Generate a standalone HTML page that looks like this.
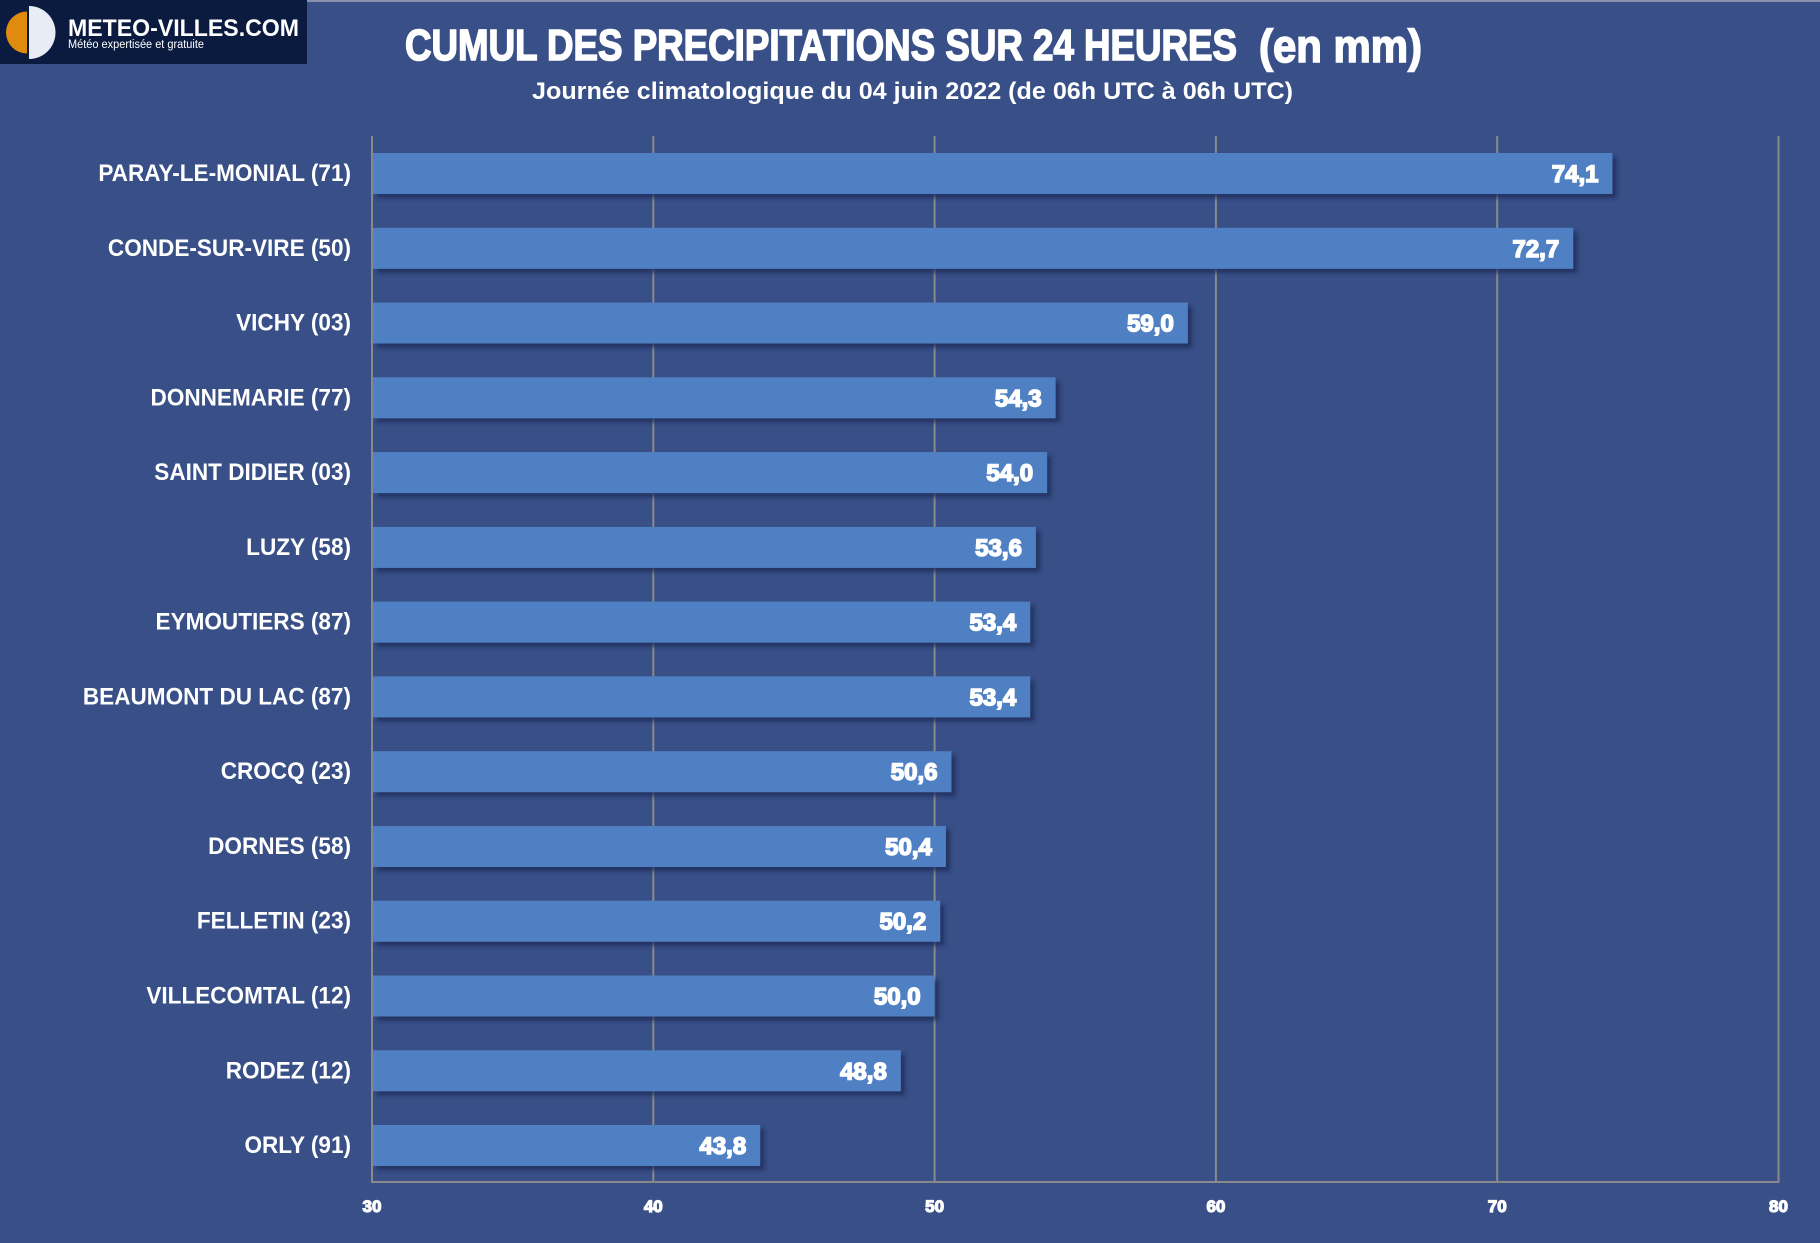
<!DOCTYPE html>
<html><head><meta charset="utf-8"><style>
html,body{margin:0;padding:0;background:#384f87;}
svg{display:block;}
text{font-family:"Liberation Sans",sans-serif;font-weight:bold;fill:#fff;}
</style></head><body>
<svg width="1820" height="1243" viewBox="0 0 1820 1243" xmlns="http://www.w3.org/2000/svg">
<defs>
<filter id="sh" x="-5%" y="-30%" width="110%" height="170%">
<feDropShadow dx="4" dy="4" stdDeviation="2" flood-color="#1c2a55" flood-opacity="0.75"/>
</filter>
</defs>
<rect width="1820" height="1243" fill="#384f87"/>
<rect x="0" y="0" width="1820" height="2" fill="#8a93ab"/>
<!-- logo -->
<rect x="0" y="0" width="307" height="64" fill="#0b1b3f"/>
<path d="M27 11.5 A21 21 0 0 0 27 53.5 Z" fill="#e08a0e"/>
<path d="M29 6 A26.5 26.5 0 0 1 29 59 Z" fill="#e8ecf5"/>
<text x="68" y="36" font-size="24" textLength="231" lengthAdjust="spacingAndGlyphs">METEO-VILLES.COM</text>
<text x="68" y="48" font-size="11.5" style="font-weight:normal" textLength="136" lengthAdjust="spacingAndGlyphs">Météo expertisée et gratuite</text>
<!-- title -->
<g style="stroke:#fff;stroke-width:1.6px;paint-order:stroke">
<text x="405" y="60" font-size="44" textLength="832" lengthAdjust="spacingAndGlyphs">CUMUL DES PRECIPITATIONS SUR 24 HEURES</text>
<text x="1259" y="62" font-size="46" textLength="163" lengthAdjust="spacingAndGlyphs">(en mm)</text>
</g>
<text x="532" y="99" font-size="24" textLength="761" lengthAdjust="spacingAndGlyphs">Journée climatologique du 04 juin 2022 (de 06h UTC à 06h UTC)</text>
<!-- grid -->
<g stroke="#8a8a8a" stroke-width="2">
<line x1="372" y1="136" x2="372" y2="1183"/>
<line x1="653.3" y1="136" x2="653.3" y2="1183"/>
<line x1="934.6" y1="136" x2="934.6" y2="1183"/>
<line x1="1215.9" y1="136" x2="1215.9" y2="1183"/>
<line x1="1497.2" y1="136" x2="1497.2" y2="1183"/>
<line x1="1778.5" y1="136" x2="1778.5" y2="1183"/>
<line x1="371" y1="1182" x2="1779.5" y2="1182"/>
</g>
<!-- bars -->
<g fill="#4f80c4" filter="url(#sh)">
<rect x="373" y="153" width="1239.5" height="41"/>
<rect x="373" y="227.8" width="1200.2" height="41"/>
<rect x="373" y="302.5" width="814.8" height="41"/>
<rect x="373" y="377.3" width="682.6" height="41"/>
<rect x="373" y="452.1" width="674.1" height="41"/>
<rect x="373" y="526.9" width="662.9" height="41"/>
<rect x="373" y="601.6" width="657.2" height="41"/>
<rect x="373" y="676.4" width="657.2" height="41"/>
<rect x="373" y="751.2" width="578.5" height="41"/>
<rect x="373" y="826" width="572.9" height="41"/>
<rect x="373" y="900.7" width="567.2" height="41"/>
<rect x="373" y="975.5" width="561.6" height="41"/>
<rect x="373" y="1050.3" width="527.8" height="41"/>
<rect x="373" y="1125" width="387.2" height="41"/>
</g>
<!-- values -->
<g font-size="24" text-anchor="end" style="stroke:#fff;stroke-width:1.5px;paint-order:stroke">
<text x="1598.5" y="182">74,1</text>
<text x="1559.2" y="256.8">72,7</text>
<text x="1173.8" y="331.5">59,0</text>
<text x="1041.6" y="406.3">54,3</text>
<text x="1033.1" y="481.1">54,0</text>
<text x="1021.9" y="555.9">53,6</text>
<text x="1016.2" y="630.6">53,4</text>
<text x="1016.2" y="705.4">53,4</text>
<text x="937.5" y="780.2">50,6</text>
<text x="931.9" y="855">50,4</text>
<text x="926.2" y="929.7">50,2</text>
<text x="920.6" y="1004.5">50,0</text>
<text x="886.8" y="1079.3">48,8</text>
<text x="746.2" y="1154">43,8</text>
</g>
<!-- labels -->
<g transform="translate(351,0) scale(0.94,1)" font-size="24" text-anchor="end">
<text x="0" y="181">PARAY-LE-MONIAL (71)</text>
<text x="0" y="255.8">CONDE-SUR-VIRE (50)</text>
<text x="0" y="330.5">VICHY (03)</text>
<text x="0" y="405.3">DONNEMARIE (77)</text>
<text x="0" y="480.1">SAINT DIDIER (03)</text>
<text x="0" y="554.9">LUZY (58)</text>
<text x="0" y="629.6">EYMOUTIERS (87)</text>
<text x="0" y="704.4">BEAUMONT DU LAC (87)</text>
<text x="0" y="779.2">CROCQ (23)</text>
<text x="0" y="854">DORNES (58)</text>
<text x="0" y="928.7">FELLETIN (23)</text>
<text x="0" y="1003.5">VILLECOMTAL (12)</text>
<text x="0" y="1078.3">RODEZ (12)</text>
<text x="0" y="1153">ORLY (91)</text>
</g>
<!-- ticks -->
<g font-size="17" text-anchor="middle" style="stroke:#fff;stroke-width:1.2px;paint-order:stroke">
<text x="372" y="1212">30</text>
<text x="653.3" y="1212">40</text>
<text x="934.6" y="1212">50</text>
<text x="1215.9" y="1212">60</text>
<text x="1497.2" y="1212">70</text>
<text x="1778.5" y="1212">80</text>
</g>
</svg>
</body></html>
